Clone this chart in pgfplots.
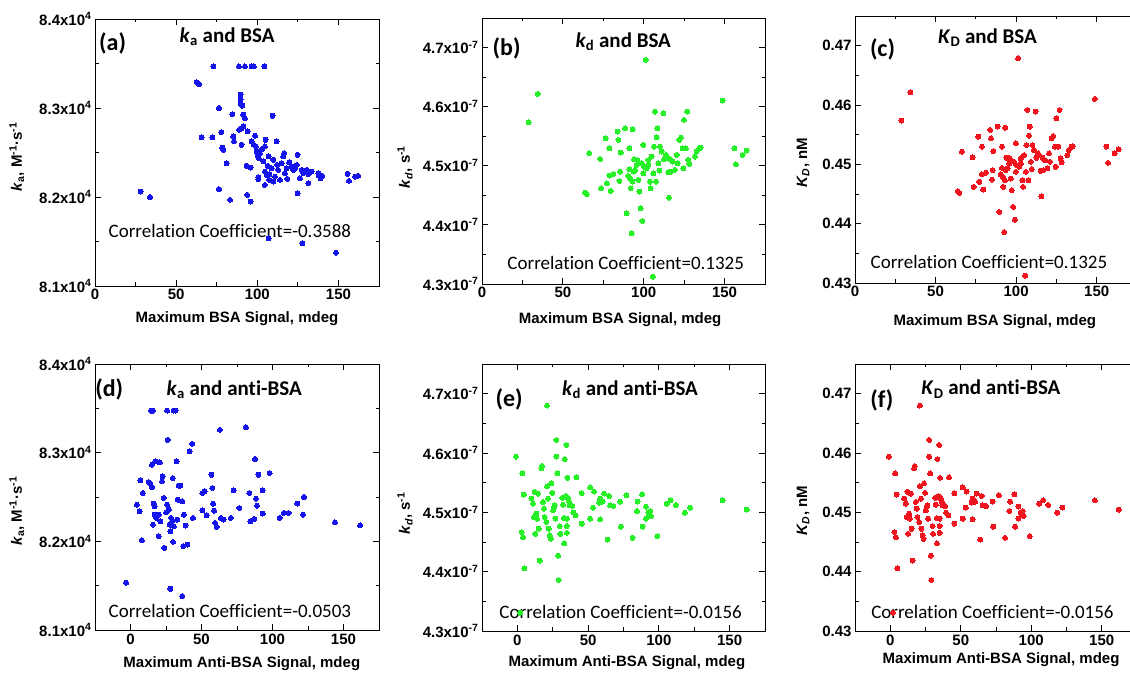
\documentclass[border=0pt]{standalone}
\usepackage{fontspec}
\setmainfont{Liberation Sans}
\newfontfamily\calfont{Carlito}[Ligatures=NoCommon]
\usepackage{pgfplots}
\pgfplotsset{compat=1.18}
\usepackage{pgfplotstable}

\definecolor{pblue}{RGB}{20,20,235}
\definecolor{pgreen}{RGB}{40,240,40}
\definecolor{pred}{RGB}{240,20,30}

\pgfplotstableread{
x y
28.1 82061
33.9 82000
62.6 83291
64.1 83269
72.9 83467
65.7 82669
72.3 82669
76.4 82999
77.8 82729
78.4 82556
79.1 82530
76.4 82088
81.1 82380
84.6 82931
85.2 82680
85.6 82624
83.2 81968
88.7 83467
92.4 83467
96.5 83467
97.9 83467
104.3 83467
89.7 83100
89.7 83149
89.7 83048
90.8 83025
91.4 82924
92.4 82886
88.9 82755
90.3 82774
91.4 82793
94.0 82736
90.3 82586
93.4 82350
93.8 82024
95.9 81949
95.9 82331
96.5 82624
98.6 82688
97.9 82586
99.2 82568
99.6 82511
100.2 82463
101.0 82436
101.6 82493
100.6 82200
100.6 82223
104.7 82568
105.1 82643
103.7 82399
104.7 82286
104.7 82136
105.7 82249
106.4 82350
107.0 82455
107.4 82256
107.4 82193
107.0 81536
108.8 82324
109.9 82418
109.9 82174
110.9 82230
109.4 82913
112.3 82361
112.9 82305
114.0 82193
115.0 82380
116.0 82455
116.6 82493
117.0 82268
118.1 82324
118.5 82204
119.7 82388
121.1 82343
122.2 82305
123.2 82324
124.2 82361
124.8 82474
124.8 82043
126.3 82211
127.3 82305
128.3 82268
127.7 81480
130.4 82305
131.4 82256
131.4 82155
133.5 82286
137.6 82268
138.0 82238
139.0 82211
140.0 82238
148.5 81375
155.6 82260
156.5 82181
160.2 82230
162.2 82238
102.9 82538
111.9 82624
}\dataA

\pgfplotstableread{
x y
28.8 4.5737
34.4 4.6216
63.8 4.4547
64.8 4.4518
66.3 4.5212
73.0 4.5116
73.6 4.4620
76.5 4.5466
77.2 4.4705
78.8 4.5297
78.8 4.4834
79.6 4.4575
81.3 4.4862
83.9 4.5579
84.4 4.5438
85.4 4.4902
85.8 4.5223
85.0 4.4744
88.5 4.5635
89.5 4.4197
90.5 4.4829
91.2 4.5297
91.2 4.4941
91.6 4.4789
92.0 4.4620
92.6 4.3858
93.0 4.4733
93.2 4.5618
93.6 4.4902
94.0 4.5111
94.7 4.4930
95.7 4.5015
96.1 4.5099
96.7 4.4761
97.3 4.4564
98.1 4.4282
98.8 4.5043
99.2 4.4067
99.8 4.5353
100.2 4.4987
101.2 4.6791
101.9 4.4958
102.9 4.5099
103.9 4.4733
104.3 4.4620
104.9 4.5156
105.6 4.3125
106.0 4.4874
106.4 4.5325
107.0 4.5917
107.6 4.4733
108.0 4.5483
108.4 4.5635
109.1 4.5043
109.7 4.4919
110.1 4.5325
111.1 4.5240
112.1 4.5889
112.6 4.5111
113.6 4.5184
114.2 4.5156
115.2 4.4891
115.6 4.4462
116.3 4.5111
116.9 4.4902
117.9 4.5071
119.3 4.4930
120.4 4.5184
121.0 4.5043
122.0 4.5438
123.0 4.5477
124.0 4.5297
124.5 4.4958
124.9 4.5776
126.1 4.5297
126.9 4.5917
127.6 4.5099
128.2 4.5032
131.7 4.5156
132.7 4.5240
134.4 4.5297
135.2 4.5308
148.8 4.6103
156.0 4.5297
157.0 4.5026
161.1 4.5184
163.6 4.5257
99.8 4.4874
102.9 4.5015
}\dataB

\pgfplotstableread{
x y
28.8 0.45737
34.4 0.46216
63.8 0.44547
64.8 0.44518
66.3 0.45212
73.0 0.45116
73.6 0.44620
76.5 0.45466
77.2 0.44705
78.8 0.45297
78.8 0.44834
79.6 0.44575
81.3 0.44862
83.9 0.45579
84.4 0.45438
85.4 0.44902
85.8 0.45223
85.0 0.44744
88.5 0.45635
89.5 0.44197
90.5 0.44829
91.2 0.45297
91.2 0.44941
91.6 0.44789
92.0 0.44620
92.6 0.43858
93.0 0.44733
93.2 0.45618
93.6 0.44902
94.0 0.45111
94.7 0.44930
95.7 0.45015
96.1 0.45099
96.7 0.44761
97.3 0.44564
98.1 0.44282
98.8 0.45043
99.2 0.44067
99.8 0.45353
100.2 0.44987
101.2 0.46791
101.9 0.44958
102.9 0.45099
103.9 0.44733
104.3 0.44620
104.9 0.45156
105.6 0.43125
106.0 0.44874
106.4 0.45325
107.0 0.45917
107.6 0.44733
108.0 0.45483
108.4 0.45635
109.1 0.45043
109.7 0.44919
110.1 0.45325
111.1 0.45240
112.1 0.45889
112.6 0.45111
113.6 0.45184
114.2 0.45156
115.2 0.44891
115.6 0.44462
116.3 0.45111
116.9 0.44902
117.9 0.45071
119.3 0.44930
120.4 0.45184
121.0 0.45043
122.0 0.45438
123.0 0.45477
124.0 0.45297
124.5 0.44958
124.9 0.45776
126.1 0.45297
126.9 0.45917
127.6 0.45099
128.2 0.45032
131.7 0.45156
132.7 0.45240
134.4 0.45297
135.2 0.45308
148.8 0.46103
156.0 0.45297
157.0 0.45026
161.1 0.45184
163.6 0.45257
99.8 0.44874
102.9 0.45015
}\dataC

\pgfplotstableread{
x y
-3.1 81533
4.5 82414
6.4 82339
6.9 82688
8.0 82013
8.7 82545
12.8 82669
13.5 82658
15.1 82864
14.4 83475
15.8 83475
15.1 82613
15.8 82189
16.3 82425
17.0 82395
17.0 82301
17.5 82901
18.2 82264
19.9 82301
19.9 82058
20.6 82890
21.0 82226
22.2 82676
22.7 82733
23.4 82489
23.9 81926
25.1 82328
25.8 82414
26.2 83145
25.8 83475
27.0 82358
27.7 82189
28.1 82114
28.1 81465
28.6 82264
29.3 82226
29.8 82714
30.0 81994
30.5 82170
30.5 83475
31.7 83475
32.4 82901
32.9 82245
33.3 82470
34.0 82628
35.2 82628
36.4 81383
36.4 82451
37.1 81945
37.6 82301
38.8 82178
40.0 81964
41.6 83014
43.5 83100
44.0 82264
50.6 82545
50.6 82350
52.2 82564
53.7 82294
57.0 82751
57.7 82601
58.2 82425
58.9 82346
59.6 82208
60.8 82163
62.9 83258
63.6 82264
65.5 82245
70.7 82264
72.6 82575
76.6 82376
81.3 83288
83.7 82545
84.4 82226
87.2 82253
87.7 82928
88.4 82481
89.1 82403
90.1 82751
93.1 82313
93.1 82575
97.9 82770
105.0 82264
108.0 82320
111.3 82320
117.5 82425
121.5 82301
122.2 82500
144.0 82215
161.7 82181
}\dataD

\pgfplotstableread{
x y
-1.0 4.5938
2.0 4.3310
5.0 4.4056
3.0 4.4667
4.0 4.4582
3.5 4.5655
4.5 4.5299
9.9 4.5232
11.0 4.5147
11.7 4.4921
12.2 4.5345
12.7 4.4638
13.4 4.4977
13.9 4.4893
14.6 4.5316
15.1 4.4723
15.8 4.4186
16.9 4.5740
17.4 4.5780
18.1 4.5175
18.8 4.5062
19.3 4.4921
20.5 4.4836
21.0 4.5441
21.7 4.5232
22.1 4.4723
22.9 4.4610
23.6 4.4554
24.0 4.5486
24.7 4.5328
25.2 4.5034
25.9 4.5090
26.4 4.5119
26.9 4.4893
27.6 4.6220
27.6 4.5938
28.3 4.5655
28.8 4.4271
29.2 4.3859
30.0 4.4768
30.4 4.4638
31.8 4.5243
32.3 4.5130
33.0 4.4904
33.5 4.5898
34.7 4.6136
35.4 4.5582
21.0 4.6800
35.9 4.5232
34.3 4.5276
35.0 4.4893
35.0 4.4770
35.0 4.4655
33.1 4.4475
36.6 4.5175
37.0 4.5119
38.9 4.5107
39.6 4.4995
41.2 4.4949
41.7 4.5588
45.5 4.5322
45.5 4.4808
51.4 4.5419
51.4 4.4893
53.5 4.5080
54.2 4.5351
57.8 4.5164
58.5 4.5232
58.5 4.4881
60.2 4.5181
61.3 4.5317
63.8 4.4542
64.8 4.5276
65.5 4.5119
67.9 4.5107
72.6 4.5181
73.1 4.4758
77.1 4.5288
81.4 4.4571
84.5 4.5022
85.0 4.5181
88.1 4.5305
88.5 4.4758
90.9 4.5097
90.9 4.4893
92.6 4.4995
93.3 4.4949
94.0 4.5022
94.5 4.4937
99.0 4.4599
105.6 4.5147
108.4 4.5203
112.0 4.5124
118.4 4.4995
122.1 4.5080
145.1 4.5203
162.1 4.5046
}\dataE

\pgfplotstableread{
x y
-1.0 0.45938
2.0 0.43310
5.0 0.44056
3.0 0.44667
4.0 0.44582
3.5 0.45655
4.5 0.45299
9.9 0.45232
11.0 0.45147
11.7 0.44921
12.2 0.45345
12.7 0.44638
13.4 0.44977
13.9 0.44893
14.6 0.45316
15.1 0.44723
15.8 0.44186
16.9 0.45740
17.4 0.45780
18.1 0.45175
18.8 0.45062
19.3 0.44921
20.5 0.44836
21.0 0.45441
21.7 0.45232
22.1 0.44723
22.9 0.44610
23.6 0.44554
24.0 0.45486
24.7 0.45328
25.2 0.45034
25.9 0.45090
26.4 0.45119
26.9 0.44893
27.6 0.46220
27.6 0.45938
28.3 0.45655
28.8 0.44271
29.2 0.43859
30.0 0.44768
30.4 0.44638
31.8 0.45243
32.3 0.45130
33.0 0.44904
33.5 0.45898
34.7 0.46136
35.4 0.45582
21.0 0.46800
35.9 0.45232
34.3 0.45276
35.0 0.44893
35.0 0.44770
35.0 0.44655
33.1 0.44475
36.6 0.45175
37.0 0.45119
38.9 0.45107
39.6 0.44995
41.2 0.44949
41.7 0.45588
45.5 0.45322
45.5 0.44808
51.4 0.45419
51.4 0.44893
53.5 0.45080
54.2 0.45351
57.8 0.45164
58.5 0.45232
58.5 0.44881
60.2 0.45181
61.3 0.45317
63.8 0.44542
64.8 0.45276
65.5 0.45119
67.9 0.45107
72.6 0.45181
73.1 0.44758
77.1 0.45288
81.4 0.44571
84.5 0.45022
85.0 0.45181
88.1 0.45305
88.5 0.44758
90.9 0.45097
90.9 0.44893
92.6 0.44995
93.3 0.44949
94.0 0.45022
94.5 0.44937
99.0 0.44599
105.6 0.45147
108.4 0.45203
112.0 0.45124
118.4 0.44995
122.1 0.45080
145.1 0.45203
162.1 0.45046
}\dataF

\tikzset{
  pl/.style={font=\calfont\bfseries\fontsize{24}{26}\selectfont, anchor=center, inner sep=0pt},
  tt/.style={font=\calfont\bfseries\fontsize{21}{24}\selectfont, anchor=center, inner sep=0pt},
  cc/.style={font=\calfont\fontsize{19}{22}\selectfont, anchor=center, inner sep=0pt},
}

\pgfplotsset{
  panel/.style={
    scale only axis, anchor=south west,
    tick align=inside,
    major tick length=6pt, minor tick length=3.5pt,
    minor x tick num=1, minor y tick num=1,
    xtick={0,50,100,150}, xmax=175,
    axis line style={line width=0.9pt},
    every tick/.style={line width=0.9pt, black},
    tick label style={font=\fontsize{15}{17}\selectfont\bfseries},
    label style={font=\fontsize{15}{17}\selectfont\bfseries},
    /pgf/number format/assume math mode=true,
    scaled y ticks=false, scaled x ticks=false,
    ylabel style={anchor=center},
    xlabel style={anchor=center},
  },
  kaY/.style={ymin=81000, ymax=84000, ytick={81000,82000,83000,84000},
    yticklabels={8.1x10\textsuperscript{4},8.2x10\textsuperscript{4},8.3x10\textsuperscript{4},8.4x10\textsuperscript{4}},
    ylabel={\textit{k}\textsubscript{a}, M\textsuperscript{-1}·s\textsuperscript{-1}}},
  kdY/.style={ymin=4.3, ymax=4.75, ytick={4.3,4.4,4.5,4.6,4.7},
    yticklabels={4.3x10\textsuperscript{-7},4.4x10\textsuperscript{-7},4.5x10\textsuperscript{-7},4.6x10\textsuperscript{-7},4.7x10\textsuperscript{-7}},
    ylabel={\textit{k}\textsubscript{\textit{d}}, s\textsuperscript{-1}}},
  KDY/.style={ymin=0.43, ymax=0.475, ytick={0.43,0.44,0.45,0.46,0.47},
    yticklabels={0.43,0.44,0.45,0.46,0.47},
    ylabel={\textit{K}\textsubscript{\textit{D}}, nM}},
  dots/.style={only marks, mark=*, mark size=2.5pt, mark options={draw=#1, fill=#1, line width=0pt}},
}

\begin{document}
\begin{tikzpicture}
\useasboundingbox (0pt,0pt) rectangle (1130pt,676pt);

% (a)
\begin{axis}[panel, kaY, at={(95pt,390pt)}, width=284pt, height=267pt, xmin=0,
  xlabel={Maximum BSA Signal, mdeg},
  xlabel style={at={(axis description cs:0.5,-0.124)}},
  ylabel style={at={(axis description cs:-0.275,0.483)}}]
\addplot[dots=pblue] table[x=x,y=y] {\dataA};
\node[pl] at (rel axis cs:0.062,0.908) {(a)};
\node[tt] at (rel axis cs:0.465,0.933) {\textit{k}\textsubscript{a} and BSA};
\node[cc] at (rel axis cs:0.475,0.206) {Correlation Coefficient=-0.3588};
\end{axis}

% (b)
\begin{axis}[panel, kdY, at={(482pt,392pt)}, width=283pt, height=266pt, xmin=0,
  xlabel={Maximum BSA Signal, mdeg},
  xlabel style={at={(axis description cs:0.488,-0.135)}},
  ylabel style={at={(axis description cs:-0.272,0.44)}}]
\addplot[dots=pgreen] table[x=x,y=y] {\dataB};
\node[pl] at (rel axis cs:0.087,0.887) {(b)};
\node[tt] at (rel axis cs:0.499,0.911) {\textit{k}\textsubscript{d} and BSA};
\node[cc] at (rel axis cs:0.508,0.079) {Correlation Coefficient=0.1325};
\end{axis}

% (c)
\begin{axis}[panel, KDY, at={(855pt,393pt)}, width=282pt, height=267pt, xmin=0,
  xlabel={Maximum BSA Signal, mdeg},
  xlabel style={at={(axis description cs:0.496,-0.146)}},
  ylabel style={at={(axis description cs:-0.184,0.45)}}]
\addplot[dots=pred] table[x=x,y=y] {\dataC};
\node[pl] at (rel axis cs:0.0975,0.876) {(c)};
\node[tt] at (rel axis cs:0.47,0.919) {\textit{K}\textsubscript{D} and BSA};
\node[cc] at (rel axis cs:0.475,0.077) {Correlation Coefficient=0.1325};
\end{axis}

% (d)
\begin{axis}[panel, kaY, at={(95pt,46pt)}, width=284pt, height=266pt, xmin=-25,
  xlabel={Maximum Anti-BSA Signal, mdeg},
  xlabel style={at={(axis description cs:0.517,-0.128)}},
  ylabel style={at={(axis description cs:-0.275,0.447)}}]
\addplot[dots=pblue] table[x=x,y=y] {\dataD};
\node[pl] at (rel axis cs:0.05,0.905) {(d)};
\node[tt] at (rel axis cs:0.49,0.902) {\textit{k}\textsubscript{a} and anti-BSA};
\node[cc] at (rel axis cs:0.475,0.071) {Correlation Coefficient=-0.0503};
\end{axis}

% (e)
\begin{axis}[panel, kdY, at={(482pt,45pt)}, width=283pt, height=267pt, xmin=-25,
  xlabel={Maximum Anti-BSA Signal, mdeg},
  xlabel style={at={(axis description cs:0.512,-0.12)}},
  ylabel style={at={(axis description cs:-0.272,0.44)}}]
\addplot[dots=pgreen] table[x=x,y=y] {\dataE};
\node[pl] at (rel axis cs:0.096,0.868) {(e)};
\node[tt] at (rel axis cs:0.523,0.905) {\textit{k}\textsubscript{d} and anti-BSA};
\node[cc] at (rel axis cs:0.49,0.072) {Correlation Coefficient=-0.0156};
\end{axis}

% (f)
\begin{axis}[panel, KDY, at={(855pt,45pt)}, width=282pt, height=267pt, xmin=-25,
  xlabel={Maximum Anti-BSA Signal, mdeg},
  xlabel style={at={(axis description cs:0.518,-0.109)}},
  ylabel style={at={(axis description cs:-0.184,0.45)}}]
\addplot[dots=pred] table[x=x,y=y] {\dataF};
\node[pl] at (rel axis cs:0.095,0.865) {(f)};
\node[tt] at (rel axis cs:0.482,0.906) {\textit{K}\textsubscript{D} and anti-BSA};
\node[cc] at (rel axis cs:0.4875,0.071) {Correlation Coefficient=-0.0156};
\end{axis}
\end{tikzpicture}
\end{document}
